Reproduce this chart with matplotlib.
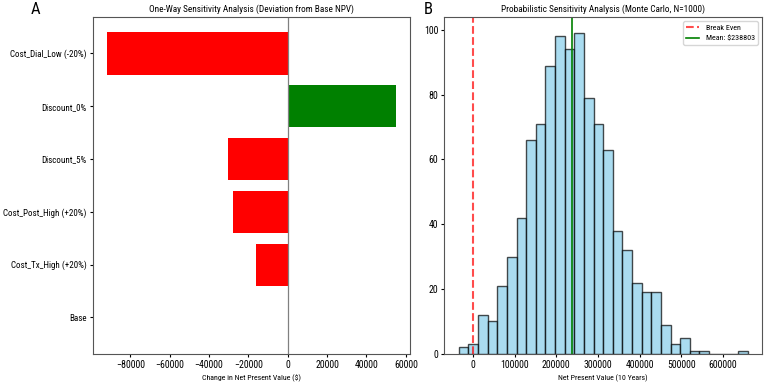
import numpy as np
import matplotlib
matplotlib.use('Agg')
import matplotlib.pyplot as plt
from matplotlib import font_manager

# pick a narrow face if one is installed, else Roboto
narrow = None
for name in ['Liberation Sans Narrow', 'DejaVu Sans Condensed', 'Roboto Condensed',
             'Open Sans Condensed']:
    try:
        font_manager.findfont(font_manager.FontProperties(family=name),
                              fallback_to_default=False)
        narrow = name
        break
    except ValueError:
        pass
if narrow is None:
    for f in font_manager.fontManager.ttflist:
        if 'Roboto' in f.name and f.stretch in ('condensed', 'semi-condensed'):
            narrow = f.name
            break

plt.rcParams['font.family'] = [narrow or 'Roboto', 'DejaVu Sans']
k = 1.0 if narrow else 0.78

# One-way sensitivity (deviation from base NPV)
params = ['Cost_Dial_Low (-20%)', 'Discount_0%', 'Discount_5%',
          'Cost_Post_High (+20%)', 'Cost_Tx_High (+20%)', 'Base']
deltas = [-91700, 55000, -30100, -27600, -16000, 0]

# Monte Carlo histogram (30 bins)
bin_lo = -34200
bin_hi = 659700
counts = [2, 3, 12, 10, 21, 30, 42, 66, 71, 89, 98, 94, 99, 79, 71,
          63, 38, 32, 22, 19, 19, 9, 3, 5, 1, 1, 0, 0, 0, 1]
mean_npv = 238803

fig, (ax1, ax2) = plt.subplots(1, 2, figsize=(7.67, 3.88), dpi=100)
plt.subplots_adjust(left=0.121, right=0.9935, top=0.956, bottom=0.088, wspace=0.107)

# A: tornado-like bars
ypos = np.arange(len(params))[::-1]
bar_colors = ['green' if d > 0 else 'red' for d in deltas]
ax1.barh(ypos, deltas, color=bar_colors)
ax1.axvline(0, color='gray', linewidth=0.9)
ax1.set_yticks(ypos)
ax1.set_yticklabels(params, fontsize=6.5 * k)
ax1.tick_params(axis='x', labelsize=7.1 * k)
ax1.set_xlabel('Change in Net Present Value ($)', fontsize=5.7 * k, labelpad=3)
ax1.set_title('One-Way Sensitivity Analysis (Deviation from Base NPV)', fontsize=6.7 * k, pad=4)

# B: Monte Carlo distribution
edges = np.linspace(bin_lo, bin_hi, len(counts) + 1)
ax2.hist(edges[:-1], bins=edges, weights=counts, color='skyblue',
         edgecolor='black', alpha=0.7)
ax2.axvline(0, color='red', linestyle='--', linewidth=1.5, alpha=0.7, label='Break Even')
ax2.axvline(mean_npv, color='green', linewidth=1.2, label=f'Mean: ${mean_npv}')
ax2.tick_params(labelsize=7.1 * k)
ax2.set_xlabel('Net Present Value (10 Years)', fontsize=5.7 * k, labelpad=3)
ax2.set_title('Probabilistic Sensitivity Analysis (Monte Carlo, N=1000)', fontsize=6.7 * k, pad=4)
ax2.legend(loc='upper right', fontsize=5.8 * k, handlelength=1.6)

for ax in (ax1, ax2):
    ax.tick_params(length=2.5, pad=2)
    for s in ax.spines.values():
        s.set_color('#555555')

fig.text(35 / 767, 1 - 13.5 / 388, 'A', fontsize=12, ha='center', va='baseline')
fig.text(428 / 767, 1 - 13.5 / 388, 'B', fontsize=12, ha='center', va='baseline')

plt.savefig('out.png', dpi=100)
